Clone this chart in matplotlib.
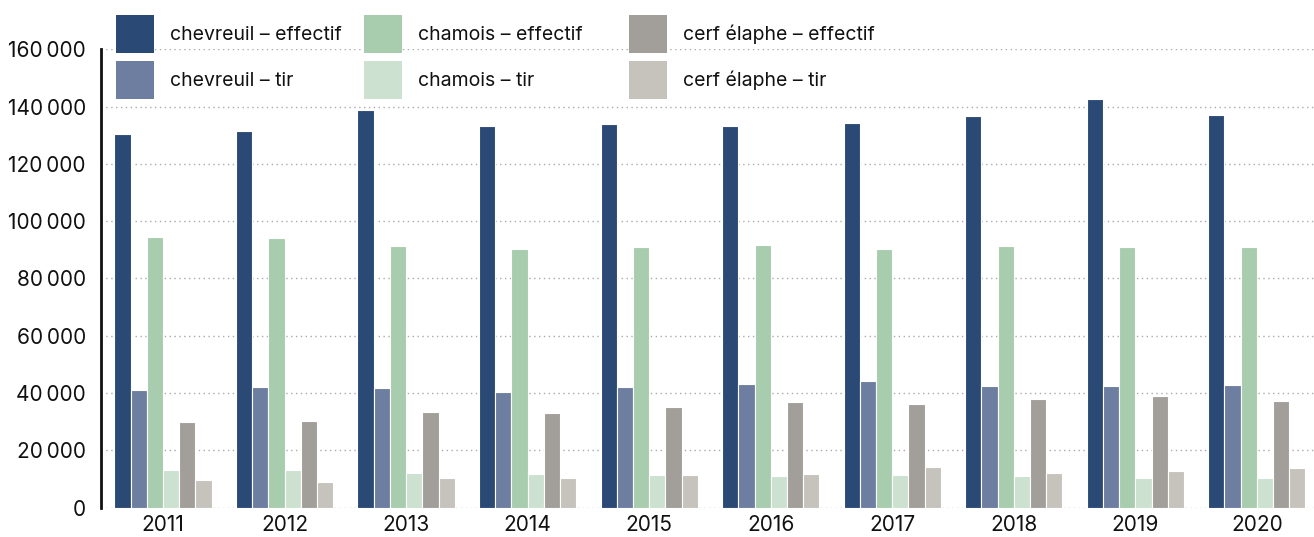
import numpy as np
import matplotlib
matplotlib.use('Agg')
import matplotlib.pyplot as plt
from matplotlib.patches import Patch
from matplotlib.ticker import FuncFormatter

plt.rcParams['font.family'] = ['Inter', 'DejaVu Sans']

years = ['2011', '2012', '2013', '2014', '2015',
         '2016', '2017', '2018', '2019', '2020']

chevreuil_eff = [130600, 131400, 138700, 133100, 133800,
                 133100, 134200, 136600, 142500, 136900]
chevreuil_tir = [41100, 42200, 41900, 40400, 42100,
                 43100, 44200, 42400, 42500, 42800]
chamois_eff = [94400, 94100, 91300, 90200, 90900,
               91600, 90200, 91300, 90900, 90900]
chamois_tir = [13200, 13200, 12100, 11700, 11400,
               11100, 11400, 11100, 10400, 10400]
cerf_eff = [29900, 30300, 33400, 33000, 35100,
            36900, 36200, 37900, 39000, 37200]
cerf_tir = [9500, 9000, 10400, 10400, 11400,
            11700, 14200, 12100, 12800, 13900]

series = [
    ('chevreuil \u2013 effectif', chevreuil_eff, '#2a4a75'),
    ('chevreuil \u2013 tir', chevreuil_tir, '#6e7ea0'),
    ('chamois \u2013 effectif', chamois_eff, '#a8cdae'),
    ('chamois \u2013 tir', chamois_tir, '#cce1d0'),
    ('cerf \u00e9laphe \u2013 effectif', cerf_eff, '#a29f9a'),
    ('cerf \u00e9laphe \u2013 tir', cerf_tir, '#c6c3bd'),
]

fig = plt.figure(figsize=(13.14, 5.37), dpi=100)
ax = fig.add_axes([0.0769, 0.0546, 0.9231, 0.8536])

x = np.arange(len(years))
n = len(series)
w = 0.8 / n
for i, (label, vals, color) in enumerate(series):
    ax.bar(x - 0.4 + w * (i + 0.5), vals, width=w, color=color,
           edgecolor='white', linewidth=0.8, zorder=3)

ax.set_xlim(-0.51, 9.47)
ax.set_ylim(0, 160000)
ax.set_yticks(np.arange(0, 160001, 20000))
ax.yaxis.set_major_formatter(FuncFormatter(
    lambda v, p: '{:,.0f}'.format(v).replace(',', '\u202f')))
ax.set_xticks(x)
ax.set_xticklabels(years)
ax.tick_params(axis='both', length=0, labelsize=15, colors='#111111')
ax.tick_params(axis='y', pad=11)
ax.tick_params(axis='x', pad=5)

ax.grid(axis='y', linestyle=(0, (1, 2.5)), color='#aaaaaa',
        linewidth=1, zorder=0)
ax.set_axisbelow(True)
for s in ['top', 'right', 'bottom']:
    ax.spines[s].set_visible(False)
ax.spines['left'].set_linewidth(2)
ax.spines['left'].set_color('#111111')

# legend: three columns of two entries, placed like the original
# (matplotlib trims 0.35*(h-0.7) off the patch height, hence 2.63)
col_x = [116 / 1314, 364 / 1314, 629 / 1314]
for c in range(3):
    handles = [Patch(facecolor=series[2 * c + k][2], edgecolor='none',
                     label=series[2 * c + k][0]) for k in range(2)]
    leg = fig.legend(handles=handles, loc='upper left',
                     bbox_to_anchor=(col_x[c], 1 - 15 / 537),
                     frameon=False, fontsize=14, handlelength=1.95,
                     handleheight=2.63, handletextpad=0.82,
                     labelspacing=0.41, borderpad=0, borderaxespad=0)
    for t in leg.get_texts():
        t.set_color('#111111')

fig.savefig('out.png', dpi=100)
